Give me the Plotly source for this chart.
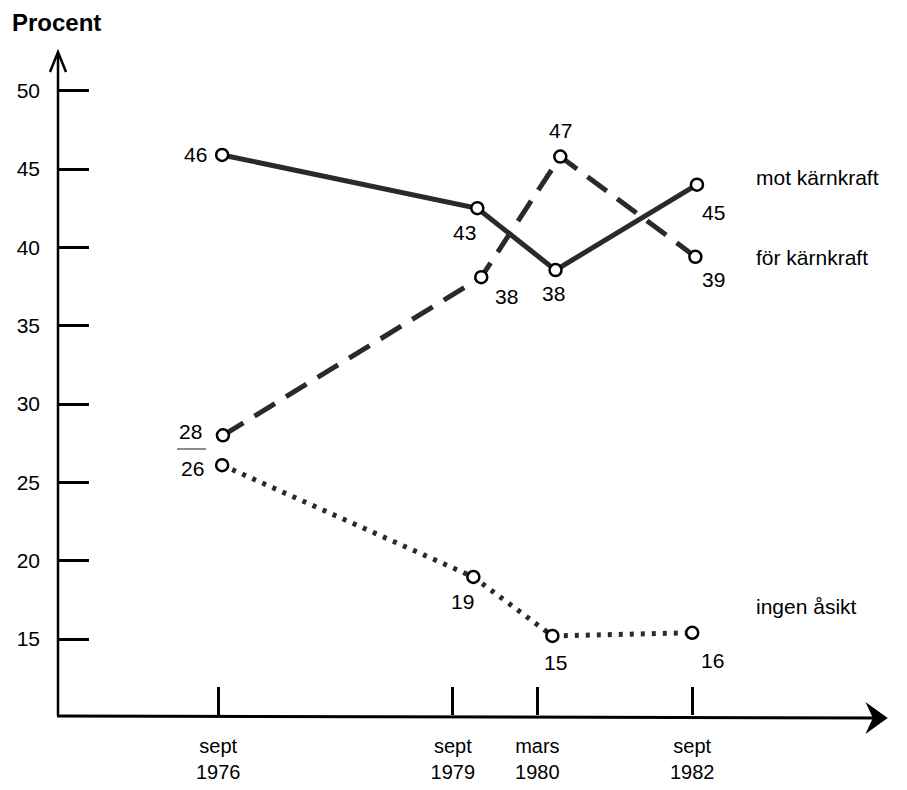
import plotly.graph_objects as go

# ---- data ----
# x: position of each survey along the (not-to-scale) time axis, in axis units
tick_pos = [0.0, 2.97, 4.04, 6.0]
tick_text = ["sept<br>1976", "sept<br>1979", "mars<br>1980", "sept<br>1982"]

mot_x = [0.05, 3.28, 4.27, 6.06]
mot_y = [45.9, 42.5, 38.55, 44.0]
mot_lbl = ["46", "43", "38", "45"]

for_x = [0.06, 3.33, 4.33, 6.04]
for_y = [28.0, 38.1, 45.8, 39.4]
for_lbl = ["28", "38", "47", "39"]

ing_x = [0.05, 3.23, 4.23, 6.0]
ing_y = [26.1, 18.96, 15.2, 15.4]
ing_lbl = ["26", "19", "15", "16"]

y_ticks = [15, 20, 25, 30, 35, 40, 45, 50]
series_names = ["mot kärnkraft", "för kärnkraft", "ingen åsikt"]

# ---- figure ----
FONT = "Liberation Sans, Arial, sans-serif"
NARROW = "Liberation Sans Narrow, Liberation Sans, Arial, sans-serif"
LINE = "#2a2a2a"

fig = go.Figure()

def add_series(xs, ys, dash, width):
    fig.add_trace(go.Scatter(
        x=xs, y=ys, mode="lines", line=dict(color=LINE, width=width, dash=dash),
        hoverinfo="skip", showlegend=False))

add_series(mot_x, mot_y, "solid", 5)
add_series(for_x, for_y, "24px,13px", 5)
add_series(ing_x, ing_y, "4px,7px", 5)

for xs, ys in [(mot_x, mot_y), (for_x, for_y), (ing_x, ing_y)]:
    fig.add_trace(go.Scatter(
        x=xs, y=ys, mode="markers",
        marker=dict(symbol="circle", size=12, color="white",
                    line=dict(color="black", width=2.5)),
        hoverinfo="skip", showlegend=False))

annotations = []
shifts = {
    "mot": [(-27, 0), (-13, -24), (-2, -23), (17, -28)],
    "for": [(-32, 4), (25, -19), (0, 26), (18, -23)],
    "ing": [(-30, -3), (-11, -25), (3, -27), (20, -28)],
}
for key, xs, ys, lbls in [("mot", mot_x, mot_y, mot_lbl),
                          ("for", for_x, for_y, for_lbl),
                          ("ing", ing_x, ing_y, ing_lbl)]:
    for (xv, yv, t, (dx, dy)) in zip(xs, ys, lbls, shifts[key]):
        annotations.append(dict(x=xv, y=yv, xref="x", yref="y", text=t,
                                showarrow=False, xshift=dx, yshift=dy,
                                font=dict(family=FONT, size=21, color="black")))

def px(x):
    return (x - 57) / 828

def py(y):
    return (715 - y) / 665

# series names at the right
name_y = [py(177), py(257), py(606)]
for name, yy in zip(series_names, name_y):
    annotations.append(dict(x=px(754), y=yy, xref="paper", yref="paper",
                            text=name, showarrow=False, xanchor="left", yanchor="middle",
                            font=dict(family=FONT, size=21, color="black")))

annotations.append(dict(x=px(10), y=py(22), xref="paper", yref="paper",
                        text="<b>Procent</b>", showarrow=False, xanchor="left",
                        yanchor="middle", font=dict(family=FONT, size=24, color="black")))

shapes = [
    # y axis
    dict(type="line", xref="paper", yref="paper", x0=px(58), y0=py(716), x1=px(58), y1=py(54),
         line=dict(color="black", width=2.5)),
    dict(type="path", xref="paper", yref="paper",
         path=f"M {px(50)},{py(72)} L {px(58)},{py(52)} L {px(66)},{py(72)}",
         line=dict(color="black", width=2.5)),
    # x axis
    dict(type="line", xref="paper", yref="paper", x0=px(57), y0=py(716), x1=px(882), y1=py(718),
         line=dict(color="black", width=3)),
    dict(type="path", xref="paper", yref="paper",
         path=f"M {px(868)},{py(705)} L {px(886)},{py(718)} L {px(868)},{py(731)} L {px(874)},{py(718)} Z",
         fillcolor="black", line=dict(color="black", width=2)),
    # small stray stroke between the 28 and 26 labels in the original
    dict(type="line", xref="paper", yref="paper", x0=px(177), y0=py(449), x1=px(206), y1=py(449),
         line=dict(color="#666666", width=1.5)),
]

# page body has an 8px margin: figure is placed at (8, 8)
fig.update_layout(
    width=891, height=774,
    margin=dict(l=49, r=14, t=42, b=67, autoexpand=False),
    plot_bgcolor="white", paper_bgcolor="white",
    xaxis=dict(range=[-2.04, 8.44], showgrid=False, zeroline=False, showline=False,
               automargin=False,
               tickmode="array", tickvals=tick_pos, ticktext=tick_text,
               ticks="inside", ticklen=28, tickwidth=2.5, tickcolor="black",
               ticklabelstandoff=17,
               tickfont=dict(family=NARROW, size=20, color="black")),
    yaxis=dict(range=[10.15, 52.6], showgrid=False, zeroline=False, showline=False,
               automargin=False,
               tickmode="array", tickvals=y_ticks,
               ticks="inside", ticklen=32, tickwidth=2.5, tickcolor="black",
               ticklabelstandoff=16,
               tickfont=dict(family=FONT, size=21, color="black")),
    annotations=annotations,
    shapes=shapes,
)

fig.write_html("out.html")
